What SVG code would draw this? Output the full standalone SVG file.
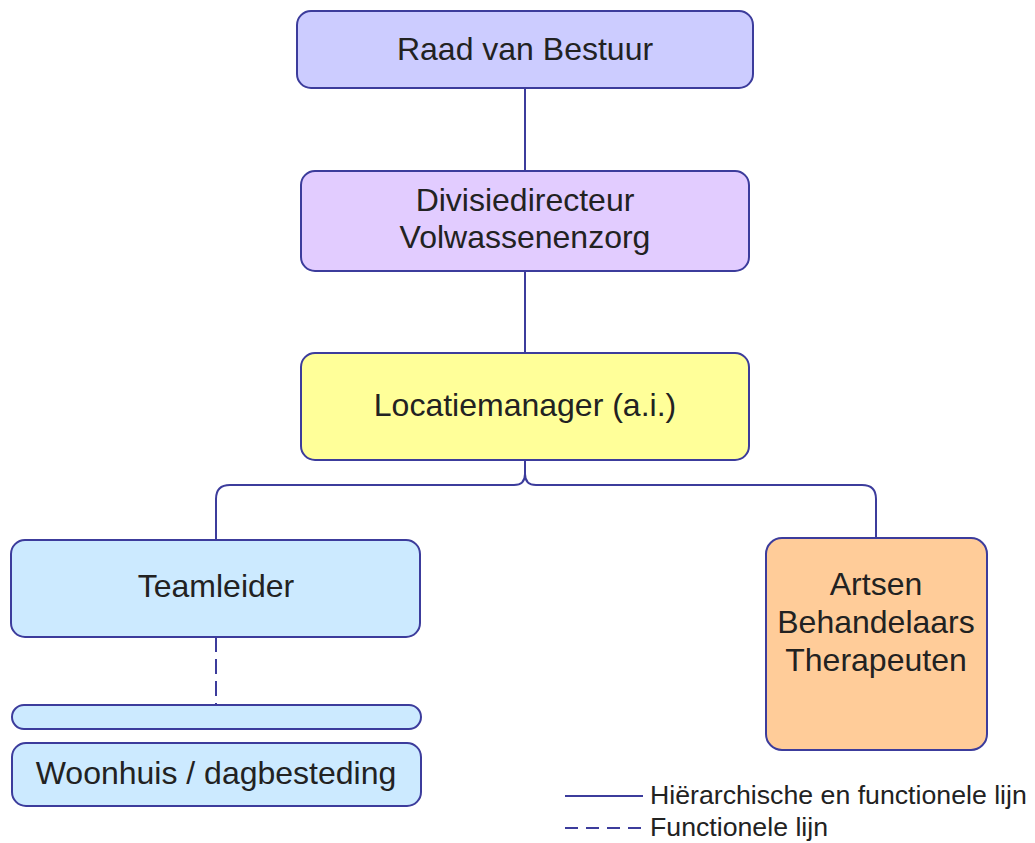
<svg xmlns="http://www.w3.org/2000/svg" width="1035" height="843" viewBox="0 0 1035 843">
<style>
.box{stroke:#3c3c9c;stroke-width:2}
.t{font-family:"Liberation Sans",Arial,sans-serif;font-size:32px;fill:#222;text-anchor:middle}
.lg{font-family:"Liberation Sans",Arial,sans-serif;font-size:26.7px;fill:#222}
.c{fill:none;stroke:#3c3c9c;stroke-width:2}
.d{stroke-dasharray:15 7}
</style>
<rect width="1035" height="843" fill="#fff"/>
<g id="connectors">
<line class="c" x1="525" y1="88" x2="525" y2="171"/>
<line class="c" x1="525" y1="271" x2="525" y2="353"/>
<path class="c" d="M525 460 V474 Q525 485 514 485 H230 Q216 485 216 499 V540"/>
<path class="c" d="M525 474 Q525 485 536 485 H862 Q876 485 876 499 V538"/>
<line class="c d" x1="216" y1="637" x2="216" y2="705"/>
</g>
<g id="raad"><rect class="box" x="297" y="11" width="456" height="77" rx="14" fill="#ccccff"/><text class="t" x="525" y="60">Raad van Bestuur</text></g>
<g id="divisie"><rect class="box" x="301" y="171" width="448" height="100" rx="14" fill="#e2ccff"/><text class="t" x="525" y="211">Divisiedirecteur</text><text class="t" x="525" y="248">Volwassenenzorg</text></g>
<g id="locatie"><rect class="box" x="301" y="353" width="448" height="107" rx="14" fill="#ffff99"/><text class="t" x="525" y="416">Locatiemanager (a.i.)</text></g>
<g id="teamleider"><rect class="box" x="11" y="540" width="409" height="97" rx="14" fill="#cceaff"/><text class="t" x="216" y="597">Teamleider</text></g>
<g id="bar"><rect class="box" x="12" y="705" width="409" height="24" rx="12" fill="#cceaff"/></g>
<g id="woonhuis"><rect class="box" x="12" y="743" width="409" height="63" rx="14" fill="#cceaff"/><text class="t" x="216" y="784">Woonhuis / dagbesteding</text></g>
<g id="artsen"><rect class="box" x="766" y="538" width="221" height="212" rx="16" fill="#ffcc99"/><text class="t" x="876" y="595">Artsen</text><text class="t" x="876" y="633">Behandelaars</text><text class="t" x="876" y="671">Therapeuten</text></g>
<g id="legend">
<line class="c" x1="565" y1="796" x2="643" y2="796"/>
<text class="lg" x="650" y="804">Hiërarchische en functionele lijn</text>
<line class="c" x1="565" y1="828" x2="643" y2="828" style="stroke-dasharray:13 8"/>
<text class="lg" x="650" y="836">Functionele lijn</text>
</g>
</svg>
